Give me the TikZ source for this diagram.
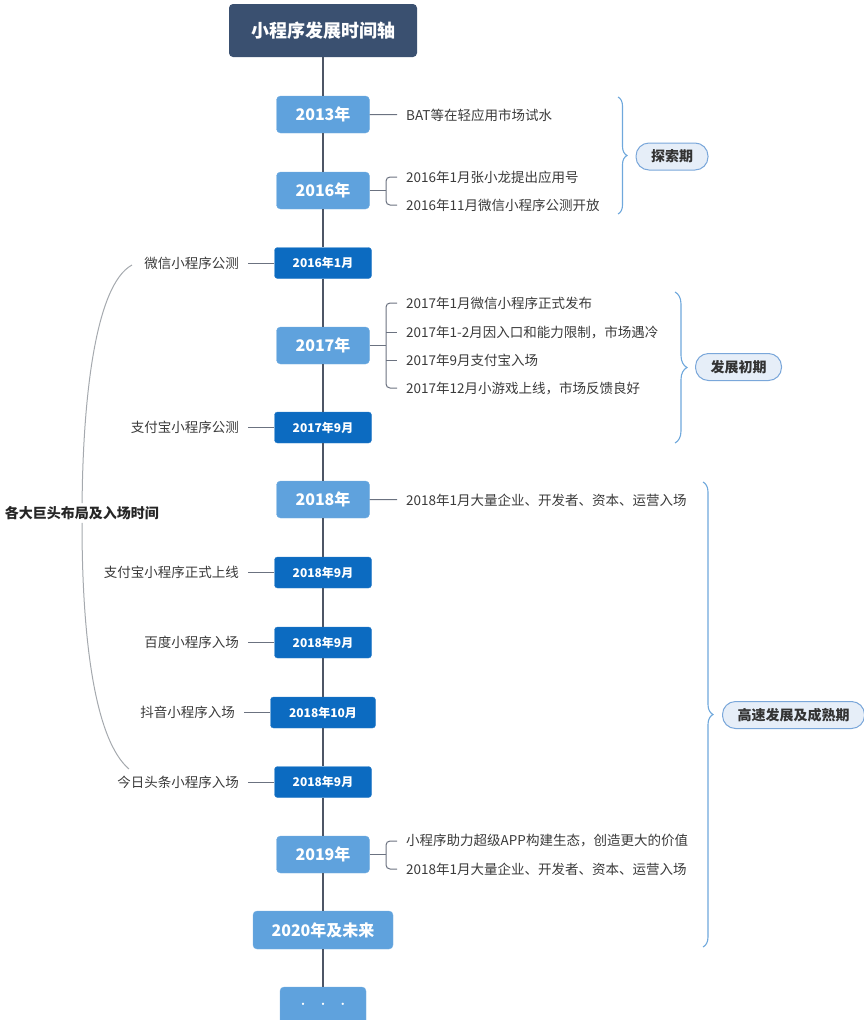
\documentclass[tikz,border=0pt]{standalone}
\usepackage{fontspec}
\setmainfont{Noto Sans CJK SC}
\usetikzlibrary{decorations.pathreplacing}

\definecolor{titlebg}{HTML}{3A5070}
\definecolor{yearblue}{HTML}{5FA2DD}
\definecolor{monthblue}{HTML}{0C6BC1}
\definecolor{spinegray}{HTML}{4D5666}
\definecolor{branchgray}{HTML}{6B7280}
\definecolor{braceblue}{HTML}{6FA8DC}
\definecolor{phasefill}{HTML}{E6EEF8}
\definecolor{phaseline}{HTML}{7AA7DA}
\definecolor{giantgray}{HTML}{A5A9AE}
\definecolor{bodytext}{HTML}{3A3A3A}

\tikzset{
  titlebox/.style={rectangle, rounded corners=4pt, fill=titlebg, text=white, minimum width=188pt, minimum height=53pt, font=\fontsize{18}{20}\selectfont\bfseries},
  yearbox/.style={rectangle, rounded corners=4pt, fill=yearblue, draw=yearblue!85!white, text=white, minimum width=93pt, minimum height=37pt, font=\fontsize{16}{18}\selectfont\bfseries},
  monthbox/.style={rectangle, rounded corners=3pt, fill=monthblue, draw=monthblue!85!white, text=white, minimum width=97pt, minimum height=31pt, font=\fontsize{12}{14}\selectfont\bfseries},
  righttext/.style={anchor=west, inner xsep=9pt, inner ysep=1pt, text=bodytext, font=\fontsize{13.5}{15}\selectfont},
  lefttext/.style={anchor=east, inner xsep=9pt, inner ysep=1pt, text=bodytext, font=\fontsize{13.5}{15}\selectfont},
  phase/.style={rectangle, rounded corners=13pt, fill=phasefill, draw=phaseline, line width=1pt, minimum height=27pt, inner xsep=15pt, text=black!80, font=\fontsize{14}{16}\selectfont\bfseries},
  giantlabel/.style={inner xsep=1pt, inner ysep=3pt, text=black!85, font=\fontsize{14}{16}\selectfont\bfseries},
  spine/.style={draw=spinegray, line width=1.2pt},
  branch/.style={draw=branchgray, line width=1pt},
  giant/.style={draw=giantgray, line width=1pt},
  phasebrace/.style={draw=braceblue, line width=1.1pt, decorate, decoration={brace, amplitude=#1}},
}

\begin{document}
\begin{tikzpicture}[x=1pt, y=-1pt]
\useasboundingbox (0,0) rectangle (864,1020);

\node[titlebox] (title) at (323,30.5) {小程序发展时间轴};
\node[yearbox] (y13) at (323,114.5) {2013年};
\node[yearbox] (y16) at (323,190.5) {2016年};
\node[monthbox] (m16) at (323,263) {2016年1月};
\node[yearbox] (y17) at (323,345.5) {2017年};
\node[monthbox] (m17) at (323,427.5) {2017年9月};
\node[yearbox] (y18) at (323,499.5) {2018年};
\node[monthbox] (m181) at (323,572.5) {2018年9月};
\node[monthbox] (m182) at (323,642.5) {2018年9月};
\node[monthbox, minimum width=105pt] (m183) at (323,712.5) {2018年10月};
\node[monthbox] (m184) at (323,782) {2018年9月};
\node[yearbox] (y19) at (323,854.5) {2019年};
\node[yearbox, minimum width=140pt, minimum height=38pt] (y20) at (323,930) {2020年及未来};
\node[yearbox, minimum width=86pt, font=\fontsize{11}{12}\selectfont] (ydots) at (323,1005.5) {·\hspace{9pt}·\hspace{9pt}·};

\draw[spine] (title) -- (y13) -- (y16) -- (m16) -- (y17) -- (m17) -- (y18) -- (m181) -- (m182) -- (m183) -- (m184) -- (y19) -- (y20) -- (ydots);

% right side events
\node[righttext] (r13) at (397,115) {BAT等在轻应用市场试水};
\node[righttext] (r161) at (397,177) {2016年1月张小龙提出应用号};
\node[righttext] (r162) at (397,205) {2016年11月微信小程序公测开放};
\node[righttext] (r171) at (397,303) {2017年1月微信小程序正式发布};
\node[righttext] (r172) at (397,332) {2017年1-2月因入口和能力限制，市场遇冷};
\node[righttext] (r173) at (397,360) {2017年9月支付宝入场};
\node[righttext] (r174) at (397,388) {2017年12月小游戏上线，市场反馈良好};
\node[righttext] (r18) at (397,500) {2018年1月大量企业、开发者、资本、运营入场};
\node[righttext] (r191) at (397,841) {小程序助力超级APP构建生态，创造更大的价值};
\node[righttext] (r192) at (397,869) {2018年1月大量企业、开发者、资本、运营入场};

\coordinate (f16) at (386,190.5);
\coordinate (f17) at (386,345.5);
\coordinate (f19) at (386,854.5);

\draw[branch] (y13) -- (r13);
\draw[branch] (y16) -- (f16);
\draw[branch, rounded corners=4pt] (r161.west) -| (f16) |- (r162.west);
\draw[branch] (y17) -- (f17);
\draw[branch, rounded corners=4pt] (r171.west) -| (f17) |- (r174.west);
\draw[branch] (r172.west -| f17) -- (r172.west);
\draw[branch] (r173.west -| f17) -- (r173.west);
\draw[branch] (y18) -- (r18);
\draw[branch] (y19) -- (f19);
\draw[branch, rounded corners=4pt] (r191.west) -| (f19) |- (r192.west);

% left side players
\node[lefttext] (l16) at (248,263) {微信小程序公测};
\node[lefttext] (l17) at (248,427.5) {支付宝小程序公测};
\node[lefttext] (l181) at (248,572.5) {支付宝小程序正式上线};
\node[lefttext] (l182) at (248,642.5) {百度小程序入场};
\node[lefttext] (l183) at (244,712.5) {抖音小程序入场};
\node[lefttext] (l184) at (248,782) {今日头条小程序入场};

\draw[branch] (l16) -- (m16);
\draw[branch] (l17) -- (m17);
\draw[branch] (l181) -- (m181);
\draw[branch] (l182) -- (m182);
\draw[branch] (l183) -- (m183);
\draw[branch] (l184) -- (m184);

\node[giantlabel] (glabel) at (82,513) {各大巨头布局及入场时间};
\coordinate (gtop) at (132,265);
\coordinate (gbot) at (129,769);
\draw[giant] (gtop) .. controls (95,285) and (83,400) .. (glabel);
\draw[giant] (glabel) .. controls (82,640) and (95,740) .. (gbot);

% phases
\coordinate (b1s) at (618,97);
\coordinate (b1e) at (618,214);
\coordinate (b2s) at (675,292);
\coordinate (b2e) at (675,443);
\coordinate (b3s) at (703,482);
\coordinate (b3e) at (703,947);
\draw[phasebrace=9pt] (b1s) -- (b1e);
\draw[phasebrace=12pt] (b2s) -- (b2e);
\draw[phasebrace=10pt] (b3s) -- (b3e);
\node[phase] (p1) at (672,156.5) {探索期};
\node[phase] (p2) at (738.5,367) {发展初期};
\node[phase] (p3) at (793.5,715) {高速发展及成熟期};
\end{tikzpicture}
\end{document}
